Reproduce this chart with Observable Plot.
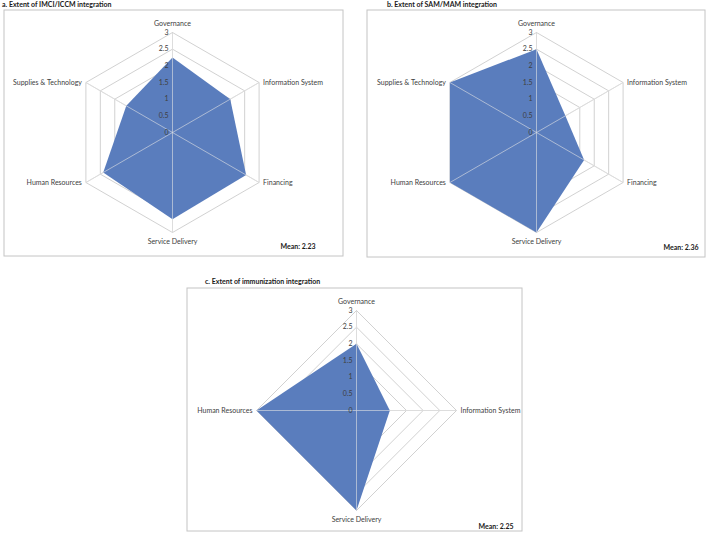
<!DOCTYPE html>
<html>
<head>
<meta charset="utf-8">
<script src="https://cdn.jsdelivr.net/npm/d3@7"></script>
<script src="https://cdn.jsdelivr.net/npm/@observablehq/plot@0.6"></script>
<style>
  html, body { margin: 0; padding: 0; background: #fff; }
  #fig { position: relative; width: 709px; height: 536px; font-family: Lato, "Open Sans", sans-serif; }
  .panel { position: absolute; }
  .title { position: absolute; font-weight: bold; font-size: 7px; color: #1a1a1a; white-space: nowrap; }
</style>
</head>
<body>
<div id="fig"></div>
<script>
// ---- data ----
const titles = [
  "a. Extent of IMCI/ICCM integration",
  "b. Extent of SAM/MAM integration",
  "c. Extent of immunization integration"
];
const axesA = ["Governance", "Information System", "Financing", "Service Delivery", "Human Resources", "Supplies & Technology"];
const valuesA = [2.25, 2.0, 2.55, 2.6, 2.4, 1.6];
const axesB = ["Governance", "Information System", "Financing", "Service Delivery", "Human Resources", "Supplies & Technology"];
const valuesB = [2.5, 1.0, 1.65, 3.0, 3.0, 3.0];
const axesC = ["Governance", "Information System", "Service Delivery", "Human Resources"];
const valuesC = [2.0, 1.0, 3.0, 3.0];
const means = ["2.23", "2.36", "2.25"];
const tickValues = [0, 0.5, 1, 1.5, 2, 2.5, 3];
const tickLabels = ["0", "0.5", "1", "1.5", "2", "2.5", "3"];

// ---- drawing ----
const fig = document.getElementById("fig");
const RMAX = 3;
const k = 100 / 3; // px per unit

function radar({axes, values, mean, title, left, top, width, height, cx, cy, titleX, titleY, meanDx, meanDy}) {
  const n = axes.length;
  const ang = i => i * 2 * Math.PI / n;
  const axisPts = axes.map((name, i) => ({name, i, x: RMAX * Math.sin(ang(i)), y: RMAX * Math.cos(ang(i))}));
  const rings = [];
  for (const lv of tickValues.filter(t => t > 0)) {
    for (let i = 0; i <= n; i++) rings.push({lv, x: lv * Math.sin(ang(i % n)), y: lv * Math.cos(ang(i % n))});
  }
  const poly = [];
  for (let i = 0; i <= n; i++) {
    const v = values[i % n];
    poly.push({x: v * Math.sin(ang(i % n)), y: v * Math.cos(ang(i % n))});
  }
  const ticks = tickValues.map((v, j) => ({v, label: tickLabels[j]}));
  const eps = 1e-6;
  const topB = axisPts.filter(d => Math.abs(d.x) < eps && d.y > 0);
  const botB = axisPts.filter(d => Math.abs(d.x) < eps && d.y < 0);
  const rightP = axisPts.filter(d => d.x > eps);
  const leftP = axisPts.filter(d => d.x < -eps);
  const lab = {fontSize: 7, fill: "#404040", text: "name", x: "x", y: "y"};

  const svg = Plot.plot({
    width, height,
    margin: 0,
    x: {domain: [-cx / k, (width - cx) / k], axis: null},
    y: {domain: [-(height - cy) / k, cy / k], axis: null},
    style: {fontFamily: "Lato, 'Open Sans', sans-serif", background: "white", overflow: "visible"},
    marks: [
      Plot.frame({stroke: "#c4c4c4", inset: 0.5}),
      Plot.line(rings, {x: "x", y: "y", z: "lv", stroke: "#cccccc", strokeWidth: 0.9}),
      Plot.link(axisPts, {x1: () => 0, y1: () => 0, x2: "x", y2: "y", stroke: "#cccccc", strokeWidth: 0.9}),
      Plot.line(poly, {x: "x", y: "y", fill: "#5a7dbd", stroke: "none", curve: "linear-closed"}),
      Plot.link(axisPts, {x1: () => 0, y1: () => 0, x2: "x", y2: "y", stroke: "#e6e6e6", strokeOpacity: 0.65, strokeWidth: 0.9}),
      Plot.text(ticks, {x: () => 0, y: "v", text: "label", textAnchor: "end", dx: -4, fontSize: 7, fill: "#404040"}),
      Plot.text(topB, {...lab, dy: -9}),
      Plot.text(botB, {...lab, dy: 9}),
      Plot.text(rightP, {...lab, textAnchor: "start", dx: 4}),
      Plot.text(leftP, {...lab, textAnchor: "end", dx: -4}),
      Plot.text([mean], {frameAnchor: "bottom-right", text: d => `Mean: ${d}`, dx: meanDx, dy: meanDy, fontWeight: "bold", fontSize: 7, fill: "#1a1a1a"})
    ]
  });
  const wrap = document.createElement("div");
  wrap.className = "panel";
  wrap.style.left = left + "px";
  wrap.style.top = top + "px";
  wrap.appendChild(svg);
  fig.appendChild(wrap);
  const t = document.createElement("div");
  t.className = "title";
  t.textContent = title;
  t.style.left = titleX + "px";
  t.style.top = titleY + "px";
  fig.appendChild(t);
}

radar({axes: axesA, values: valuesA, mean: means[0], title: titles[0],
  left: 3, top: 9, width: 340, height: 247, cx: 169, cy: 123, titleX: 2, titleY: 0, meanDx: -28, meanDy: -8});
radar({axes: axesB, values: valuesB, mean: means[1], title: titles[1],
  left: 366, top: 9, width: 339, height: 248, cx: 170, cy: 123, titleX: 387, titleY: 0, meanDx: -7, meanDy: -8});
radar({axes: axesC, values: valuesC, mean: means[2], title: titles[2],
  left: 186, top: 287, width: 336, height: 244, cx: 170, cy: 123, titleX: 205, titleY: 277, meanDx: -9, meanDy: -3});
</script>
</body>
</html>
